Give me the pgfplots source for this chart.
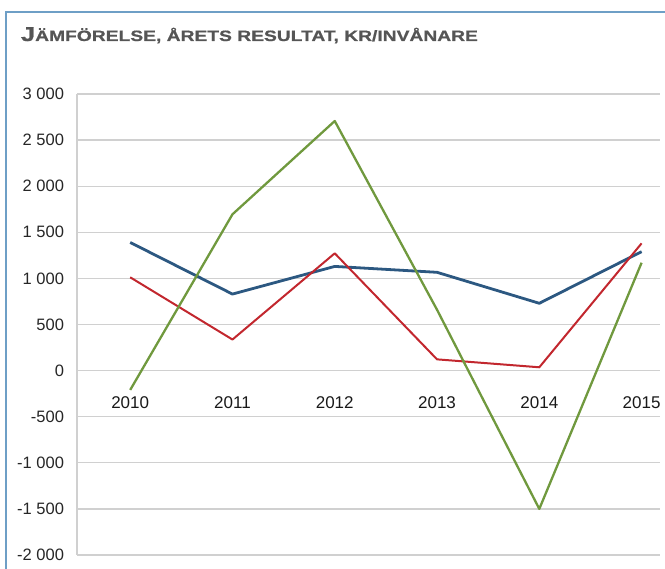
\documentclass[border=0pt]{standalone}
\usepackage{pgfplots}
\pgfplotsset{compat=1.18}
\usepackage{graphicx}
\usepackage{fontspec}
\setmainfont{Liberation Sans}
\newfontfamily\titlefont[FakeBold=0.7]{Liberation Sans Bold}
\definecolor{frameblue}{HTML}{6E9FC6}
\definecolor{titlegray}{HTML}{555555}
\definecolor{gridgray}{HTML}{D0D0D0}
\definecolor{sblue}{HTML}{2C5881}
\definecolor{sred}{HTML}{C2272E}
\definecolor{sgreen}{HTML}{70993E}
\begin{document}
\begin{tikzpicture}
\begin{axis}[
  at={(77pt,-555pt)}, anchor=south west,
  scale only axis, width=583pt, height=461pt,
  xmin=-0.52, xmax=5.18, ymin=-2000, ymax=3000,
  axis x line=none, axis y line*=left,
  axis line style={draw=gridgray, line width=1.2pt, -},
  ytick={-2000,-1500,-1000,-500,0,500,1000,1500,2000,2500,3000},
  yticklabels={-2 000,-1 500,-1 000,-500,0,500,1 000,1 500,2 000,2 500,3 000},
  major tick length=0pt,
  yticklabel style={font=\fontsize{16.5}{18}\selectfont, text=black!85, anchor=east, xshift=-9.5pt},
  ymajorgrids, grid style={draw=gridgray, line width=1.3pt},
  clip=false,
]
\addplot[sblue, line width=2.8pt, line join=round] coordinates {(0,1390) (1,830) (2,1130) (3,1066) (4,730) (5,1290)};
\addplot[sred, line width=2pt, line join=round] coordinates {(0,1012) (1,337) (2,1272) (3,122) (4,36) (5,1380)};
\addplot[sgreen, line width=2.3pt, line join=round] coordinates {(0,-210) (1,1695) (2,2707) (3,660) (4,-1500) (5,1170)};
\foreach \i/\lab in {0/2010,1/2011,2/2012,3/2013,4/2014,5/2015}{
  \edef\temp{\noexpand\node[anchor=base, inner sep=0pt, font=\noexpand\fontsize{17}{19}\noexpand\selectfont, text=black!90] at (axis cs:\i,0) [yshift=-37.7pt] {\lab};}
  \temp
}
\end{axis}
\draw[color=frameblue, line width=2.5pt] (6pt,-620pt) -- (6pt,-12pt) -- (720pt,-12pt);
\node[anchor=base west, inner sep=0pt, text=titlegray] at (20.7pt,-41pt) {\resizebox{457pt}{\height}{\titlefont\fontsize{20}{22}\selectfont J\fontsize{15}{17}\selectfont ÄMFÖRELSE, ÅRETS RESULTAT, KR/INVÅNARE}};
\pgfresetboundingbox
\useasboundingbox (0pt,0pt) rectangle (665pt,-569pt);
\end{tikzpicture}
\end{document}
